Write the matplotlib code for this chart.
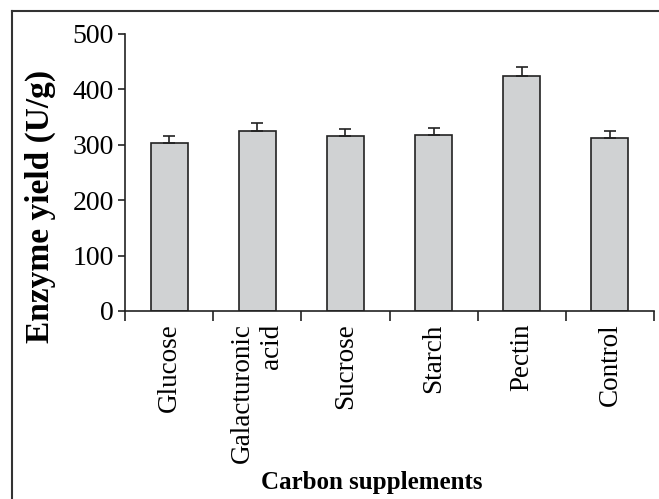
import matplotlib
matplotlib.use('Agg')
import matplotlib.pyplot as plt
from matplotlib.lines import Line2D
import numpy as np

categories = ['Glucose', 'Galacturonic\nacid', 'Sucrose', 'Starch', 'Pectin', 'Control']
yields = [304, 324, 316, 318, 424, 312]
errors = [12, 15, 12, 13, 17, 12]

plt.rcParams['font.family'] = ['Liberation Serif', 'DejaVu Serif']

fig = plt.figure(figsize=(6.59, 4.99), dpi=100)
ax = fig.add_axes([0.1897, 0.3768, 0.8027, 0.5551])

x = np.arange(len(categories))
# only the upper half of the error bar is shown
ax.bar(x, yields, width=0.42, color='#d0d2d3', edgecolor='#222222', linewidth=1.2,
       yerr=[np.zeros(len(errors)), errors],
       error_kw=dict(ecolor='#222222', elinewidth=1.2, capsize=4.5, capthick=1.2),
       zorder=2)

ax.set_xlim(-0.5, len(categories) - 0.5)
ax.set_ylim(0, 500)
ax.set_yticks([0, 100, 200, 300, 400, 500])
ax.tick_params(axis='y', labelsize=20, length=5, width=1.2, pad=3, color='#222222')

# labels at bar centres, tick marks at category boundaries
ax.set_xticks(x)
ax.set_xticklabels(categories, rotation=90, fontsize=19.5, multialignment='right')
ax.tick_params(axis='x', which='major', length=0, pad=9)
ax.set_xticks(np.arange(-0.5, len(categories)), minor=True)
ax.tick_params(axis='x', which='minor', length=7, width=1.2, direction='out', color='#222222')

for s in ['top', 'right']:
    ax.spines[s].set_visible(False)
for s in ['left', 'bottom']:
    ax.spines[s].set_linewidth(1.2)
    ax.spines[s].set_color('#222222')

fig.text(40 / 659, 1 - 206 / 499, 'Enzyme yield (U/g)', fontsize=24, fontweight='bold',
         rotation=90, ha='center', va='center')
fig.text(0.564, 1 - 483 / 499, 'Carbon supplements', fontsize=18, fontweight='bold',
         ha='center', va='center')

# frame around the figure (only left and top edges visible)
fig.add_artist(Line2D([12 / 659, 12 / 659], [0, 1 - 10.5 / 499], transform=fig.transFigure,
                      color='#333333', linewidth=1.5))
fig.add_artist(Line2D([12 / 659, 1], [1 - 10.5 / 499, 1 - 10.5 / 499], transform=fig.transFigure,
                      color='#333333', linewidth=1.5))

fig.savefig('out.png', dpi=100)
